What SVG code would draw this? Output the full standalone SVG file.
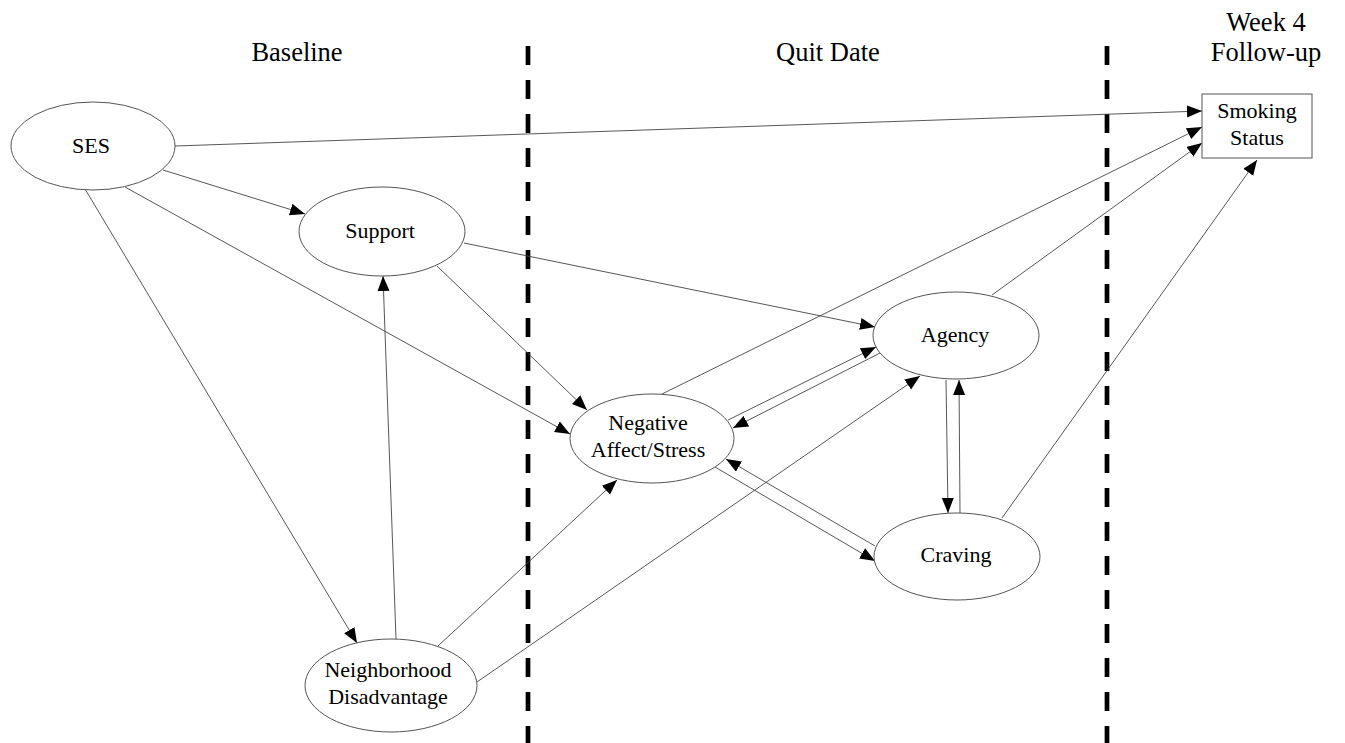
<svg xmlns="http://www.w3.org/2000/svg" width="1345" height="743" viewBox="0 0 1345 743">
<style>
.node ellipse, .node rect { fill: #fff; stroke: #555; stroke-width: 1; }
.lbl { font-family: "Liberation Serif", "Times New Roman", serif; font-size: 22px; fill: #000; text-anchor: middle; }
.hdr { font-family: "Liberation Serif", "Times New Roman", serif; font-size: 26.5px; fill: #000; text-anchor: middle; }
.edges line { stroke: #444; stroke-width: 0.9; marker-end: url(#ah); }
.divider { stroke: #000; stroke-width: 4.7; stroke-dasharray: 19 15; }
</style>
<defs>
<marker id="ah" markerUnits="userSpaceOnUse" markerWidth="17" markerHeight="13" refX="15" refY="6" orient="auto">
<path d="M0,0 L15,6 L0,12 z" fill="#000"/>
</marker>
</defs>
<rect width="1345" height="743" fill="#fff"/>
<g id="dividers">
<line class="divider" x1="528" y1="46" x2="528" y2="743"/>
<line class="divider" x1="1107" y1="46" x2="1107" y2="743"/>
</g>
<g id="headers">
<text class="hdr" x="297" y="61">Baseline</text>
<text class="hdr" x="828" y="61">Quit Date</text>
<text class="hdr" x="1266" y="31">Week 4</text>
<text class="hdr" x="1266" y="61">Follow-up</text>
</g>
<g id="connectors" class="edges">
<line x1="175" y1="146" x2="1202" y2="111"/>
<line x1="163" y1="170" x2="305" y2="214"/>
<line x1="125" y1="187" x2="570" y2="434"/>
<line x1="85" y1="189" x2="357" y2="643"/>
<line x1="396" y1="639" x2="383" y2="276"/>
<line x1="438" y1="646" x2="617" y2="480"/>
<line x1="477" y1="682" x2="920" y2="376"/>
<line x1="464" y1="243" x2="875" y2="327"/>
<line x1="437" y1="266" x2="587" y2="410"/>
<line x1="662" y1="394" x2="1202" y2="127"/>
<line x1="728" y1="420" x2="876" y2="347"/>
<line x1="880" y1="353" x2="733" y2="428"/>
<line x1="875" y1="546" x2="726" y2="459"/>
<line x1="715" y1="467" x2="875" y2="561"/>
<line x1="946" y1="380" x2="948" y2="513"/>
<line x1="960" y1="513" x2="959" y2="380"/>
<line x1="992" y1="295" x2="1202" y2="143"/>
<line x1="1002" y1="518" x2="1257" y2="160"/>
</g>
<g id="ses" class="node">
<ellipse cx="93" cy="146" rx="82" ry="44"/>
<text class="lbl" x="91" y="153">SES</text>
</g>
<g id="support" class="node">
<ellipse cx="382" cy="231.5" rx="83" ry="44.5"/>
<text class="lbl" x="380" y="238">Support</text>
</g>
<g id="neighborhood" class="node">
<ellipse cx="391" cy="685.5" rx="86" ry="46.5"/>
<text class="lbl" x="388" y="677">Neighborhood</text>
<text class="lbl" x="388" y="704">Disadvantage</text>
</g>
<g id="negaffect" class="node">
<ellipse cx="652" cy="438.5" rx="82" ry="44.5"/>
<text class="lbl" x="648" y="430">Negative</text>
<text class="lbl" x="648" y="457">Affect/Stress</text>
</g>
<g id="agency" class="node">
<ellipse cx="956" cy="335.5" rx="83" ry="43.5"/>
<text class="lbl" x="955" y="342">Agency</text>
</g>
<g id="craving" class="node">
<ellipse cx="957" cy="556.5" rx="83" ry="43.5"/>
<text class="lbl" x="956" y="562">Craving</text>
</g>
<g id="smoking" class="node">
<rect x="1202" y="94" width="110" height="64"/>
<text class="lbl" x="1257" y="118">Smoking</text>
<text class="lbl" x="1257" y="145">Status</text>
</g>
</svg>
